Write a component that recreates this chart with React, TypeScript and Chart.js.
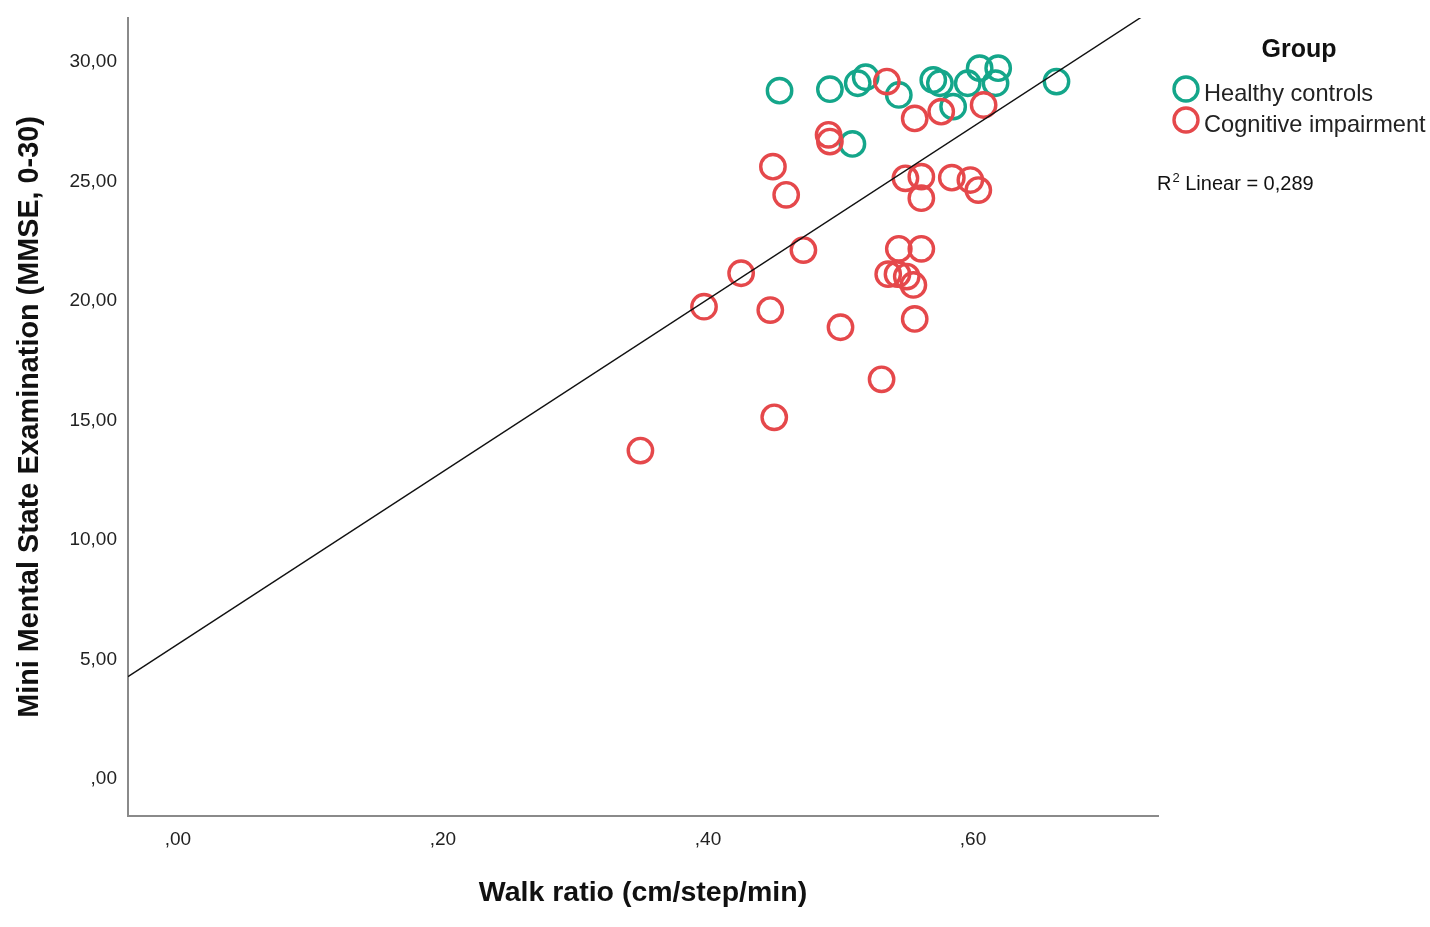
import { useEffect, useRef } from "react"
import { Chart, registerables } from "chart.js"

Chart.register(...registerables)

const FONT = "'Liberation Sans', Arial, sans-serif"

const groupLabels = ["Healthy controls", "Cognitive impairment"]
const groupColors = ["#14a68a", "#e5484b"]

// Healthy controls
const healthyWalkRatio = [0.454, 0.492, 0.513, 0.519, 0.544, 0.570, 0.575, 0.596, 0.605, 0.619, 0.617, 0.663, 0.585, 0.509]
const healthyMmse = [28.8, 28.86, 29.11, 29.36, 28.62, 29.25, 29.11, 29.11, 29.74, 29.74, 29.11, 29.18, 28.13, 26.57]

// Cognitive impairment
const impairedWalkRatio = [
  0.535, 0.556, 0.576, 0.608, 0.491, 0.492, 0.449, 0.459, 0.549, 0.561, 0.561, 0.584, 0.598, 0.604, 0.472,
  0.425, 0.397, 0.447, 0.500, 0.556, 0.544, 0.561, 0.536, 0.543, 0.550, 0.555, 0.531, 0.450, 0.349,
]
const impairedMmse = [
  29.18, 27.64, 27.92, 28.2, 26.95, 26.67, 25.62, 24.44, 25.13, 25.2, 24.3, 25.16, 25.06, 24.64, 22.13,
  21.16, 19.76, 19.62, 18.9, 19.25, 22.18, 22.18, 21.12, 21.12, 21.02, 20.67, 16.72, 15.13, 13.74,
]

// fit line end points (R2 linear = 0,289)
const fitX = [-0.0377, 0.7396]
const fitY = [4.28, 32.33]
const r2Text = "0,289"

const xTickValues = [0, 0.2, 0.4, 0.6]
const xTickLabels = [",00", ",20", ",40", ",60"]
const yTickValues = [0, 5, 10, 15, 20, 25, 30]
const yTickLabels = [",00", "5,00", "10,00", "15,00", "20,00", "25,00", "30,00"]

const toPoints = (xs: number[], ys: number[]) => xs.map((x, i) => ({ x, y: ys[i] }))

const legendPlugin = {
  id: "groupLegend",
  afterDraw(chart: Chart) {
    const ctx = chart.ctx
    ctx.save()
    ctx.fillStyle = "#111"
    ctx.textAlign = "center"
    ctx.textBaseline = "alphabetic"
    ctx.font = `bold 25px ${FONT}`
    ctx.fillText("Group", 1299, 57)

    ctx.textAlign = "left"
    ctx.font = `23.6px ${FONT}`
    groupLabels.forEach((label, i) => {
      const cy = 89 + i * 31
      ctx.beginPath()
      ctx.arc(1186, cy, 12, 0, Math.PI * 2)
      ctx.strokeStyle = groupColors[i]
      ctx.lineWidth = 3.4
      ctx.stroke()
      ctx.fillStyle = "#222"
      ctx.fillText(label, 1204, cy + 12)
    })

    ctx.fillStyle = "#111"
    ctx.font = `20px ${FONT}`
    ctx.fillText("R", 1157, 190)
    const rw = ctx.measureText("R").width
    ctx.font = `13px ${FONT}`
    ctx.fillText("2", 1157 + rw + 1, 182)
    const sw = ctx.measureText("2").width
    ctx.font = `20px ${FONT}`
    ctx.fillText(` Linear = ${r2Text}`, 1157 + rw + 1 + sw, 190)
    ctx.restore()
  },
}

const WalkRatioChart = () => {
  const chartRef = useRef<HTMLCanvasElement>(null)
  const chartInstance = useRef<Chart | null>(null)

  useEffect(() => {
    if (!chartRef.current) return
    if (chartInstance.current) chartInstance.current.destroy()

    const ctx = chartRef.current.getContext("2d")
    if (!ctx) return

    chartInstance.current = new Chart(ctx, {
      type: "scatter",
      data: {
        datasets: [
          {
            type: "line",
            label: "R2 Linear",
            data: toPoints(fitX, fitY),
            borderColor: "#111",
            borderWidth: 1.4,
            pointRadius: 0,
            fill: false,
            order: 0,
          },
          {
            label: groupLabels[1],
            data: toPoints(impairedWalkRatio, impairedMmse),
            borderColor: groupColors[1],
            backgroundColor: "rgba(0,0,0,0)",
            borderWidth: 3.4,
            pointRadius: 12.2,
            order: 1,
          },
          {
            label: groupLabels[0],
            data: toPoints(healthyWalkRatio, healthyMmse),
            borderColor: groupColors[0],
            backgroundColor: "rgba(0,0,0,0)",
            borderWidth: 3.4,
            pointRadius: 12.2,
            order: 2,
          },
        ],
      },
      options: {
        animation: false,
        responsive: true,
        maintainAspectRatio: false,
        layout: { padding: { top: 18, right: 272, left: 0, bottom: 0 } },
        plugins: {
          legend: { display: false },
          tooltip: { enabled: false },
        },
        scales: {
          x: {
            type: "linear",
            min: -0.0377,
            max: 0.7396,
            afterBuildTicks: (scale) => {
              scale.ticks = xTickValues.map((value) => ({ value }))
            },
            afterFit: (scale) => {
              scale.height = 111
              scale.paddingLeft = 0
              scale.paddingRight = 0
            },
            grid: { display: false, drawTicks: false },
            border: { display: true, color: "#8a8a8a", width: 2 },
            ticks: {
              padding: 12,
              color: "#222",
              font: { family: FONT, size: 19 },
              callback: (_v, i) => xTickLabels[i],
            },
            title: {
              display: true,
              text: "Walk ratio (cm/step/min)",
              color: "#111",
              font: { family: FONT, size: 28.5, weight: "bold" },
              padding: { top: 0, bottom: 17 },
            },
          },
          y: {
            type: "linear",
            min: -1.55,
            max: 31.84,
            afterBuildTicks: (scale) => {
              scale.ticks = yTickValues.map((value) => ({ value }))
            },
            afterFit: (scale) => {
              scale.width = 128
              scale.paddingTop = 0
              scale.paddingBottom = 0
            },
            grid: { display: false, drawTicks: false },
            border: { display: true, color: "#8a8a8a", width: 2 },
            ticks: {
              padding: 11,
              color: "#222",
              font: { family: FONT, size: 19 },
              callback: (_v, i) => yTickLabels[i],
            },
            title: {
              display: true,
              text: "Mini Mental State Examination (MMSE, 0-30)",
              color: "#111",
              font: { family: FONT, size: 28.8, weight: "bold" },
              padding: { top: 13, bottom: 0 },
            },
          },
        },
      },
      plugins: [legendPlugin],
    })

    return () => {
      if (chartInstance.current) {
        chartInstance.current.destroy()
        chartInstance.current = null
      }
    }
  }, [])

  return (
    <div style={{ position: "absolute", left: 0, top: 0, width: 1430, height: 927, background: "#fff" }}>
      <canvas ref={chartRef}></canvas>
    </div>
  )
}

export default function App() {
  return <WalkRatioChart />
}
